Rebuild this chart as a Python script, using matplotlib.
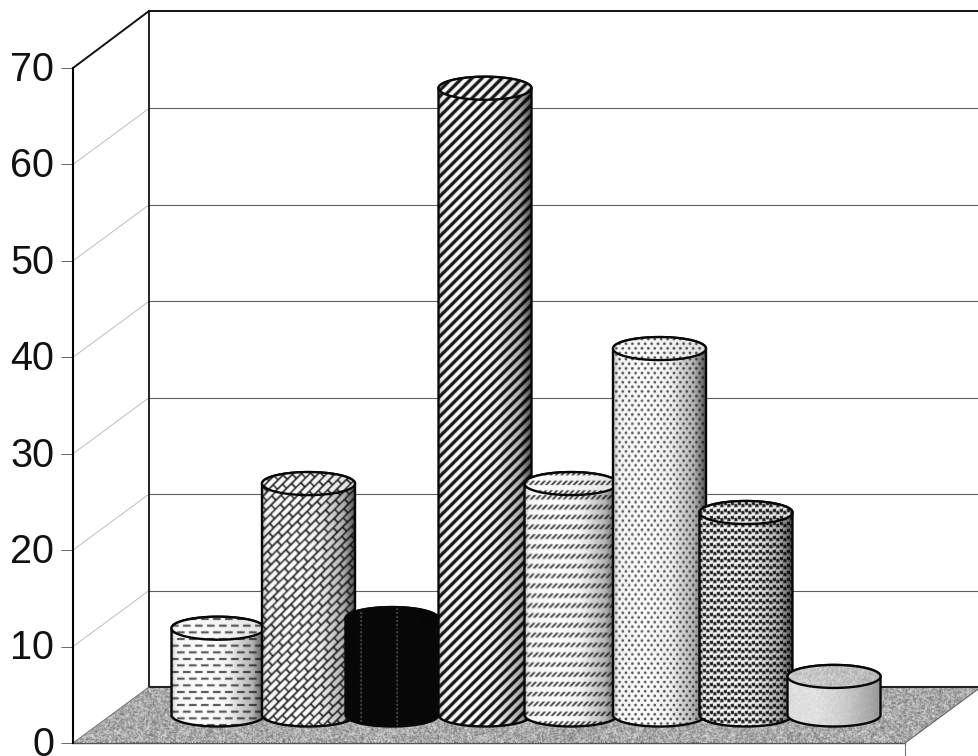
import numpy as np
import matplotlib
matplotlib.use("Agg")
import matplotlib.pyplot as plt
from matplotlib.patches import PathPatch
from matplotlib.path import Path
from matplotlib.transforms import ScaledTranslation

plt.rcParams['font.family'] = ['Liberation Sans', 'DejaVu Sans']

# Chart data
values = [9, 24, 10, 65, 24, 38, 21, 4]
y_ticks = [0, 10, 20, 30, 40, 50, 60, 70]
textures = ['dashes', 'bricks', 'black', 'stripes', 'slashes', 'dots', 'worms', 'plain']

# Scale of the box: pixels per category and per value unit
W, H = 979, 756
LEFT_PX, BASE_PX, TOP_PX = 73, 743, 68
PX_X = 88.0
PX_Y = (BASE_PX - TOP_PX) / 70
FIRST_BAR_PX = 218
DEPTH_X = 76 / PX_X
DEPTH_Y = 56 / PX_Y
FLOOR_W = 832 / PX_X
BAR_RX = 46.5 / PX_X
BAR_RY = 11.5 / PX_Y
BAR_BASE = DEPTH_Y / 2
# small sideways offsets of the cylinders, in pixels
bar_nudge = [0, 2.5, -2, 3, 1, 1.5, 0, 0]

fig = plt.figure(figsize=(W / 100, H / 100), dpi=100, facecolor='white')
ax = fig.add_axes([LEFT_PX / W, (H - BASE_PX) / H, (W - LEFT_PX) / W, (BASE_PX - TOP_PX) / H])
ax.set_facecolor('none')
x_min = (LEFT_PX - FIRST_BAR_PX) / PX_X
x_max = (W - FIRST_BAR_PX) / PX_X
ax.set_xlim(x_min, x_max)
ax.set_ylim(0, 70)
ax.autoscale(False)

for side in ('top', 'right', 'bottom'):
    ax.spines[side].set_visible(False)
ax.spines['left'].set_linewidth(1.5)
ax.spines['left'].set_zorder(6)
ax.set_xticks([])
ax.set_yticks(y_ticks)
ax.set_yticklabels([str(t) for t in y_ticks], fontsize=28.5, color='#111111')
ax.tick_params(axis='y', length=8.6, width=0.7, color='#666666', pad=5)
lift = ScaledTranslation(0, 1.5 / 72, fig.dpi_scale_trans)
for lab in ax.get_yticklabels():
    lab.set_transform(lab.get_transform() + lift)


def grain(x, y):
    f = np.sin(x * 12.9898 + y * 78.233) * 43758.5453
    return f - np.floor(f)


def soften(a, k=0.4):
    out = a.copy()
    out[1:-1, 1:-1] = (1 - k) * a[1:-1, 1:-1] + k / 4 * (
        a[:-2, 1:-1] + a[2:, 1:-1] + a[1:-1, :-2] + a[1:-1, 2:])
    return out


def pattern(name, x, y):
    """Greyscale fill in 0..1 evaluated on pixel coordinates."""
    if name == 'dashes':
        row = np.floor(y / 6.6)
        u = (x + row * 6.0) / 12.0
        dash = ((u - np.floor(u)) < 0.62) & ((y / 6.6 - row) < 0.30)
        return np.where(dash, 0.30, 1.0)
    if name == 'bricks':
        a = (x + y) / np.sqrt(2)
        b = (x - y) / np.sqrt(2)
        row = np.floor(b / 6.0)
        fb = b / 6.0 - row
        c = (a + row * 7.0) / 14.0
        fa = c - np.floor(c)
        line = (fb < 0.26) | (fa < 0.11)
        return np.where(line, 0.10, 1.0)
    if name == 'black':
        out = np.full_like(x, 0.03)
        dotted = (np.abs(x - 16) < 1) | (np.abs(x - 52) < 1)
        out[dotted & (np.mod(y, 4) < 2)] = 0.34
        return out
    if name == 'stripes':
        u = (x - y) / 10.0
        return np.where(u - np.floor(u) < 0.44, 0.08, 1.0)
    if name == 'slashes':
        row = y / 9.8
        u = (x - y) / 5.5
        s = ((row - np.floor(row)) < 0.46) & ((u - np.floor(u)) < 0.40)
        return np.where(s, 0.14, 1.0)
    if name == 'dots':
        row = np.floor(y / 4.6)
        cx = np.mod(x + row * 3.2, 6.4) - 3.2
        cy = np.mod(y, 4.6) - 2.3
        return np.where(cx ** 2 + cy ** 2 < 1.7, 0.25, 1.0)
    if name == 'worms':
        s = np.sin(2 * np.pi * (x + y) / 7.0) + np.sin(2 * np.pi * (x - y) / 7.0
                                                       + 1.6 * np.sin(2 * np.pi * x / 7.0))
        return np.where(s > -0.05, 1.0, 0.10)
    return 0.88 + 0.24 * (grain(x, y) - 0.5)


def shading(u, name):
    if name == 'plain':
        return np.interp(u, [0, 0.3, 0.6, 0.85, 1], [0.98, 1.0, 0.92, 0.78, 0.68])
    if name == 'black':
        return np.ones_like(u)
    return np.interp(u, [0, 0.05, 0.35, 0.62, 0.88, 1], [0.75, 0.96, 1.0, 0.95, 0.70, 0.35])


def painted(name, x0, x1, y0, y1, z, clip, top=False):
    ss = 3
    nx = max(int(round((x1 - x0) * PX_X)), 2)
    ny = max(int(round((y1 - y0) * PX_Y)), 2)
    xs, ys = np.meshgrid(np.arange(nx * ss) / ss, np.arange(ny * ss) / ss)
    img = pattern(name, xs, ys)
    # average the fine grid down so that narrow strokes stay even
    img = img.reshape(ny, ss, nx, ss).mean(axis=(1, 3))
    xp, yp = np.meshgrid(np.arange(nx, dtype=float), np.arange(ny, dtype=float))
    u = xp / (nx - 1)
    if top:
        if name == 'plain':
            img = 0.76 + 0.22 * (grain(xp, yp) - 0.5) + 0.06 * (0.5 - u)
        else:
            img = img * np.interp(u, [0, 0.5, 1], [1.0, 0.97, 0.88])
    else:
        img = img * shading(u, name)
    im = ax.imshow(soften(img), extent=(x0, x1, y0, y1), origin='lower', cmap='gray',
                   vmin=0, vmax=1, aspect='auto', interpolation='bilinear', zorder=z)
    im.set_clip_path(clip)
    return im


# Side wall and back wall
back_x = x_min + DEPTH_X
wall_top = 70 + DEPTH_Y + 0.1
ax.fill([x_min, back_x, back_x, x_min], [0, DEPTH_Y, wall_top, 70],
        color='white', zorder=1, clip_on=False)
ax.fill([back_x, x_max + 1, x_max + 1, back_x], [DEPTH_Y, DEPTH_Y, wall_top, wall_top],
        color='white', zorder=1, clip_on=False)

# Gridlines across both walls
for t in y_ticks[1:-1]:
    ax.plot([x_min, back_x], [t, t + DEPTH_Y], color='#bdbdbd', lw=0.7, zorder=2)
    ax.plot([back_x, x_max], [t + DEPTH_Y, t + DEPTH_Y], color='#5f5f5f', lw=0.8, zorder=2)

# Wall outlines
ax.plot([x_min, back_x], [70, wall_top], color='#111111', lw=1.4, zorder=3, clip_on=False)
ax.plot([back_x, x_max], [wall_top, wall_top], color='#111111', lw=1.4, zorder=3, clip_on=False)
ax.plot([back_x, back_x], [DEPTH_Y, wall_top], color='#111111', lw=1.3, zorder=3, clip_on=False)

# Floor
floor_x = [x_min, x_min + FLOOR_W, x_min + FLOOR_W + DEPTH_X, back_x]
floor_y = [0, 0, DEPTH_Y, DEPTH_Y]
floor_patch = PathPatch(Path(np.column_stack([floor_x + floor_x[:1], floor_y + floor_y[:1]]), closed=True),
                        facecolor='#a2a2a2', edgecolor='none', zorder=3)
ax.add_patch(floor_patch)
fx0, fx1 = x_min, x_min + FLOOR_W + DEPTH_X
nx_f, ny_f = int((fx1 - fx0) * PX_X), int(DEPTH_Y * PX_Y)
gx, gy = np.meshgrid(np.arange(nx_f, dtype=float), np.arange(ny_f, dtype=float))
floor_img = soften(soften(0.66 + 0.50 * (grain(gx, gy) - 0.5)))
floor_im = ax.imshow(floor_img, extent=(fx0, fx1, 0, DEPTH_Y), origin='lower', cmap='gray',
                     vmin=0, vmax=1, aspect='auto', interpolation='bilinear', zorder=3.5)
floor_im.set_clip_path(floor_patch)
ax.plot([back_x, x_max], [DEPTH_Y, DEPTH_Y], color='#222222', lw=1.5, zorder=4)
ax.plot([x_min, x_min + FLOOR_W], [0, 0], color='#555555', lw=1.0, zorder=4, clip_on=False)
ax.plot([x_min, back_x], [0, DEPTH_Y], color='#777777', lw=0.7, zorder=4)
ax.plot([x_min + FLOOR_W, x_min + FLOOR_W + DEPTH_X], [0, DEPTH_Y], color='#666666', lw=0.8, zorder=4, clip_on=False)
ax.plot([x_min + FLOOR_W] * 2, [0, -13 / PX_Y], color='#777777', lw=0.8, zorder=4, clip_on=False)

# Cylinders, drawn left to right so each one overlaps the previous
t = np.linspace(0, np.pi, 80)
for i, (val, tex, nudge) in enumerate(zip(values, textures, bar_nudge)):
    z = 10 + 4 * i
    cx = i + nudge / PX_X
    top_y = BAR_BASE + val
    x0, x1 = cx - BAR_RX, cx + BAR_RX
    # body: straight sides, closed underneath by the front half of an ellipse
    low_x = cx - BAR_RX * np.cos(t)
    low_y = BAR_BASE - BAR_RY * np.sin(t)
    up_x = cx + BAR_RX * np.cos(t)
    up_y = top_y + BAR_RY * np.sin(t)
    body_verts = np.column_stack([np.r_[low_x, up_x, low_x[0]], np.r_[low_y, up_y, low_y[0]]])
    body = PathPatch(Path(body_verts, closed=True), facecolor='none', edgecolor='#080808',
                     lw=1.7, zorder=z + 1, joinstyle='round')
    ax.add_patch(body)
    painted(tex, x0, x1, BAR_BASE - BAR_RY, top_y + BAR_RY, z, body)
    # lid
    full = np.linspace(0, 2 * np.pi, 160)
    lid_verts = np.column_stack([cx + BAR_RX * np.cos(full), top_y + BAR_RY * np.sin(full)])
    lid = PathPatch(Path(lid_verts, closed=True), facecolor='none', edgecolor='#080808',
                    lw=1.7, zorder=z + 3)
    ax.add_patch(lid)
    painted(tex, x0, x1, top_y - BAR_RY, top_y + BAR_RY, z + 2, lid, top=True)

fig.savefig('out.png', dpi=100)
